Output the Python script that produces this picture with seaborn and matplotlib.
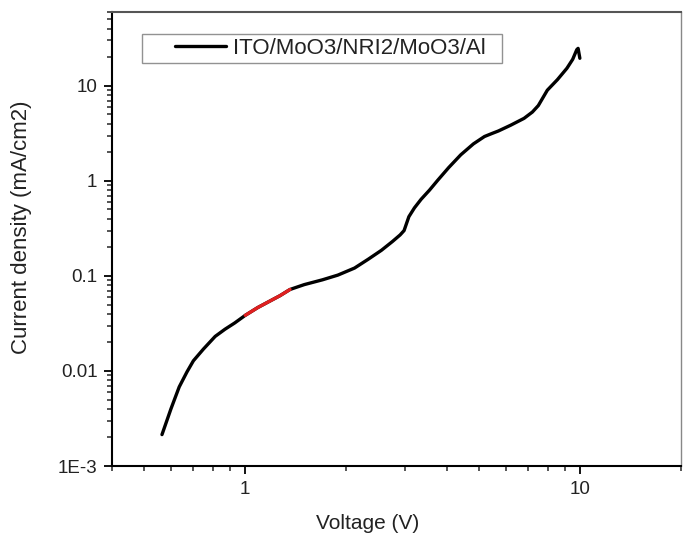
import matplotlib
matplotlib.use("Agg")
import matplotlib.pyplot as plt
import matplotlib.ticker as mticker
from matplotlib.legend_handler import HandlerLine2D
from matplotlib.lines import Line2D
import seaborn as sns
import pandas as pd

# J-V curve (log-log)
voltage = [0.564, 0.60, 0.635, 0.67, 0.70, 0.75, 0.813, 0.87, 0.93, 1.0,
           1.09, 1.18, 1.27, 1.36, 1.50, 1.70, 1.89, 2.12, 2.33, 2.55,
           2.75, 2.90, 2.98, 3.08, 3.20, 3.35, 3.55, 3.76, 4.05, 4.40,
           4.80, 5.18, 5.45, 5.70, 6.20, 6.80, 7.20, 7.50, 7.98, 8.55,
           9.13, 9.50, 9.77, 9.86, 9.98]
current = [0.00214, 0.0040, 0.0068, 0.0098, 0.0128, 0.017, 0.0231, 0.0275, 0.032, 0.0385,
           0.0465, 0.054, 0.062, 0.072, 0.081, 0.091, 0.102, 0.121, 0.150, 0.186,
           0.230, 0.270, 0.300, 0.42, 0.52, 0.64, 0.80, 1.02, 1.38, 1.88,
           2.45, 2.93, 3.15, 3.35, 3.85, 4.55, 5.3, 6.2, 9.0, 11.6,
           15.3, 19.0, 24.0, 24.8, 19.5]

# fitted (red) region
fit_lo, fit_hi = 1.0, 1.36

y_ticks = [1e-3, 1e-2, 1e-1, 1, 10]
y_labels = ["1E-3", "0.01", "0.1", "1", "10"]
x_ticks = [1, 10]
x_labels = ["1", "10"]
legend_label = "ITO/MoO3/NRI2/MoO3/Al"

df = pd.DataFrame({"V": voltage, "J": current})
fit = df[(df["V"] >= fit_lo) & (df["V"] <= fit_hi)]

sns.set_style("ticks")
plt.rcParams["font.family"] = ["Liberation Sans", "DejaVu Sans"]

fig = plt.figure(figsize=(6.83, 5.33), dpi=100)
ax = fig.add_axes([0.164, 0.1257, 0.833, 0.852])

sns.lineplot(data=df, x="V", y="J", color="black", linewidth=2.4, sort=False,
             estimator=None, ax=ax)
sns.lineplot(data=fit, x="V", y="J", color="#e02020", linewidth=2.4, sort=False,
             estimator=None, ax=ax)

ax.set_xscale("log")
ax.set_yscale("log")
ax.set_xlim(0.4, 20)
ax.set_ylim(1e-3, 60)

ax.yaxis.set_major_locator(mticker.FixedLocator(y_ticks))
ax.yaxis.set_major_formatter(mticker.FixedFormatter(y_labels))
ax.xaxis.set_major_locator(mticker.FixedLocator(x_ticks))
ax.xaxis.set_major_formatter(mticker.FixedFormatter(x_labels))
ax.xaxis.set_minor_locator(mticker.LogLocator(base=10, subs=range(2, 10)))
ax.yaxis.set_minor_locator(mticker.LogLocator(base=10, subs=range(2, 10)))
ax.xaxis.set_minor_formatter(mticker.NullFormatter())
ax.yaxis.set_minor_formatter(mticker.NullFormatter())

ax.tick_params(which="major", direction="out", length=6, width=1.3,
               labelsize=13.5, pad=4.5, colors="black")
ax.tick_params(which="minor", direction="out", length=3.5, width=1.1)
for tl in ax.get_xticklabels() + ax.get_yticklabels():
    tl.set_color("#222222")

for side in ["left", "bottom"]:
    ax.spines[side].set_linewidth(1.5)
    ax.spines[side].set_color("black")
ax.spines["top"].set_linewidth(1.5)
ax.spines["top"].set_color("#555555")
ax.spines["right"].set_linewidth(1.0)
ax.spines["right"].set_color("#888888")

ax.set_xlabel("Voltage (V)", fontsize=15, color="#222222")
ax.set_ylabel("Current density (mA/cm2)", fontsize=16, color="#222222")
ax.xaxis.set_label_coords(0.45, -0.106)
ax.yaxis.set_label_coords(-0.14, 0.526)

handle = Line2D([], [], color="black", linewidth=2.4)
leg = ax.legend([handle], [legend_label + "  "], loc="upper left",
                bbox_to_anchor=(0.053, 0.952), fontsize=16, frameon=True,
                fancybox=False, borderpad=0.18, handlelength=3.6,
                handletextpad=0.3, borderaxespad=0,
                handler_map={Line2D: HandlerLine2D(xpad=1.3)})
leg.get_frame().set_edgecolor("#777777")
leg.get_frame().set_linewidth(1.0)
for t in leg.get_texts():
    t.set_color("#222222")

fig.savefig("out.png", dpi=100)
